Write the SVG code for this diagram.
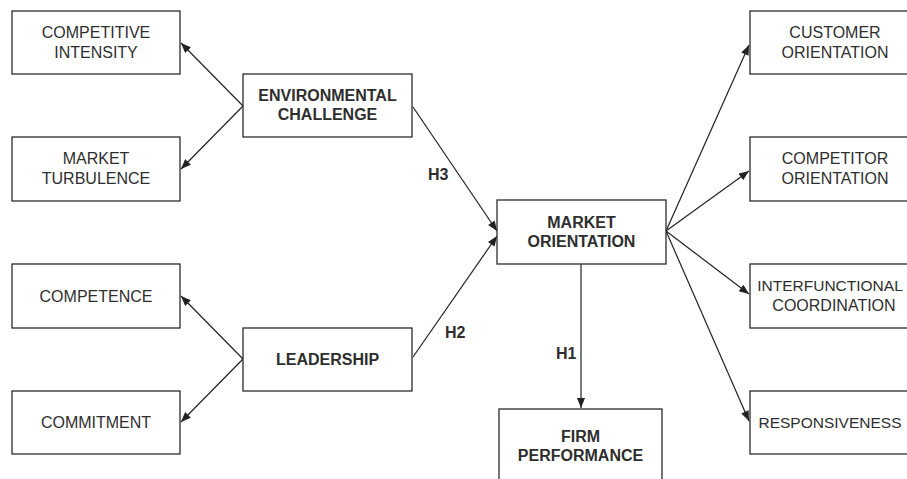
<svg xmlns="http://www.w3.org/2000/svg" width="907" height="479" viewBox="0 0 907 479">
  <style>
    .box { fill: #ffffff; stroke: #2b2b2b; stroke-width: 1.3; }
    .lbl { font-family: "Liberation Sans", Arial, sans-serif; font-size: 16px; fill: #2e2e2e; text-anchor: middle; }
    .bold { font-weight: bold; }
    .tight { font-size: 15.5px; }
    .hyp { font-family: "Liberation Sans", Arial, sans-serif; font-size: 16px; font-weight: bold; fill: #2e2e2e; }
    .conn { stroke: #222222; stroke-width: 1.2; fill: none; marker-end: url(#arrow); }
  </style>
  <defs>
    <marker id="arrow" viewBox="0 0 10 8" refX="10" refY="4" markerWidth="11" markerHeight="8" markerUnits="userSpaceOnUse" orient="auto">
      <path d="M0,0 L10,4 L0,8 Z" fill="#222222"/>
    </marker>
  </defs>
  <rect width="907" height="479" fill="#ffffff"/>

  <g id="connectors">
    <line class="conn" x1="243" y1="106" x2="181" y2="43"/>
    <line class="conn" x1="243" y1="106" x2="181" y2="169"/>
    <line class="conn" x1="243" y1="359" x2="181" y2="296"/>
    <line class="conn" x1="243" y1="359" x2="181" y2="422"/>
    <line class="conn" x1="413" y1="107" x2="497" y2="231"/>
    <line class="conn" x1="413" y1="357" x2="497" y2="236"/>
    <line class="conn" x1="666" y1="231" x2="749" y2="45"/>
    <line class="conn" x1="666" y1="231" x2="749" y2="171"/>
    <line class="conn" x1="666" y1="231" x2="749" y2="294"/>
    <line class="conn" x1="666" y1="231" x2="749" y2="421"/>
    <line class="conn" x1="581" y1="264" x2="581" y2="408"/>
    <text class="hyp" x="428" y="180">H3</text>
    <text class="hyp" x="445" y="338">H2</text>
    <text class="hyp" x="556" y="359">H1</text>
  </g>

  <g id="competitive-intensity">
    <rect class="box" x="12" y="11" width="168" height="63"/>
    <text class="lbl" x="96" y="38">COMPETITIVE</text>
    <text class="lbl" x="96" y="57.5">INTENSITY</text>
  </g>
  <g id="market-turbulence">
    <rect class="box" x="12" y="137" width="168" height="64"/>
    <text class="lbl" x="96" y="164">MARKET</text>
    <text class="lbl" x="96" y="183.5">TURBULENCE</text>
  </g>
  <g id="competence">
    <rect class="box" x="12" y="264" width="168" height="64"/>
    <text class="lbl" x="96" y="301.5">COMPETENCE</text>
  </g>
  <g id="commitment">
    <rect class="box" x="12" y="391" width="168" height="63"/>
    <text class="lbl" x="96" y="428">COMMITMENT</text>
  </g>
  <g id="environmental-challenge">
    <rect class="box" x="243" y="74" width="169" height="63"/>
    <text class="lbl bold" x="327.5" y="101">ENVIRONMENTAL</text>
    <text class="lbl bold" x="327.5" y="120">CHALLENGE</text>
  </g>
  <g id="leadership">
    <rect class="box" x="243" y="328" width="169" height="63"/>
    <text class="lbl bold" x="327.5" y="364.5">LEADERSHIP</text>
  </g>
  <g id="market-orientation">
    <rect class="box" x="497" y="200" width="169" height="64"/>
    <text class="lbl bold" x="581.5" y="228">MARKET</text>
    <text class="lbl bold" x="581.5" y="247">ORIENTATION</text>
  </g>
  <g id="firm-performance">
    <rect class="box" x="499" y="409" width="163" height="76"/>
    <text class="lbl bold" x="580.5" y="442">FIRM</text>
    <text class="lbl bold" x="580.5" y="461">PERFORMANCE</text>
  </g>
  <g id="customer-orientation">
    <rect class="box" x="750" y="11" width="169" height="63"/>
    <text class="lbl" x="835" y="38">CUSTOMER</text>
    <text class="lbl" x="835" y="57.5">ORIENTATION</text>
  </g>
  <g id="competitor-orientation">
    <rect class="box" x="750" y="137" width="169" height="64"/>
    <text class="lbl" x="835" y="164">COMPETITOR</text>
    <text class="lbl" x="835" y="183.5">ORIENTATION</text>
  </g>
  <g id="interfunctional-coordination">
    <rect class="box" x="750" y="264" width="169" height="64"/>
    <text class="lbl tight" x="830" y="291">INTERFUNCTIONAL</text>
    <text class="lbl" x="834" y="310.5">COORDINATION</text>
  </g>
  <g id="responsiveness">
    <rect class="box" x="750" y="391" width="169" height="63"/>
    <text class="lbl tight" x="830" y="428">RESPONSIVENESS</text>
  </g>
</svg>
